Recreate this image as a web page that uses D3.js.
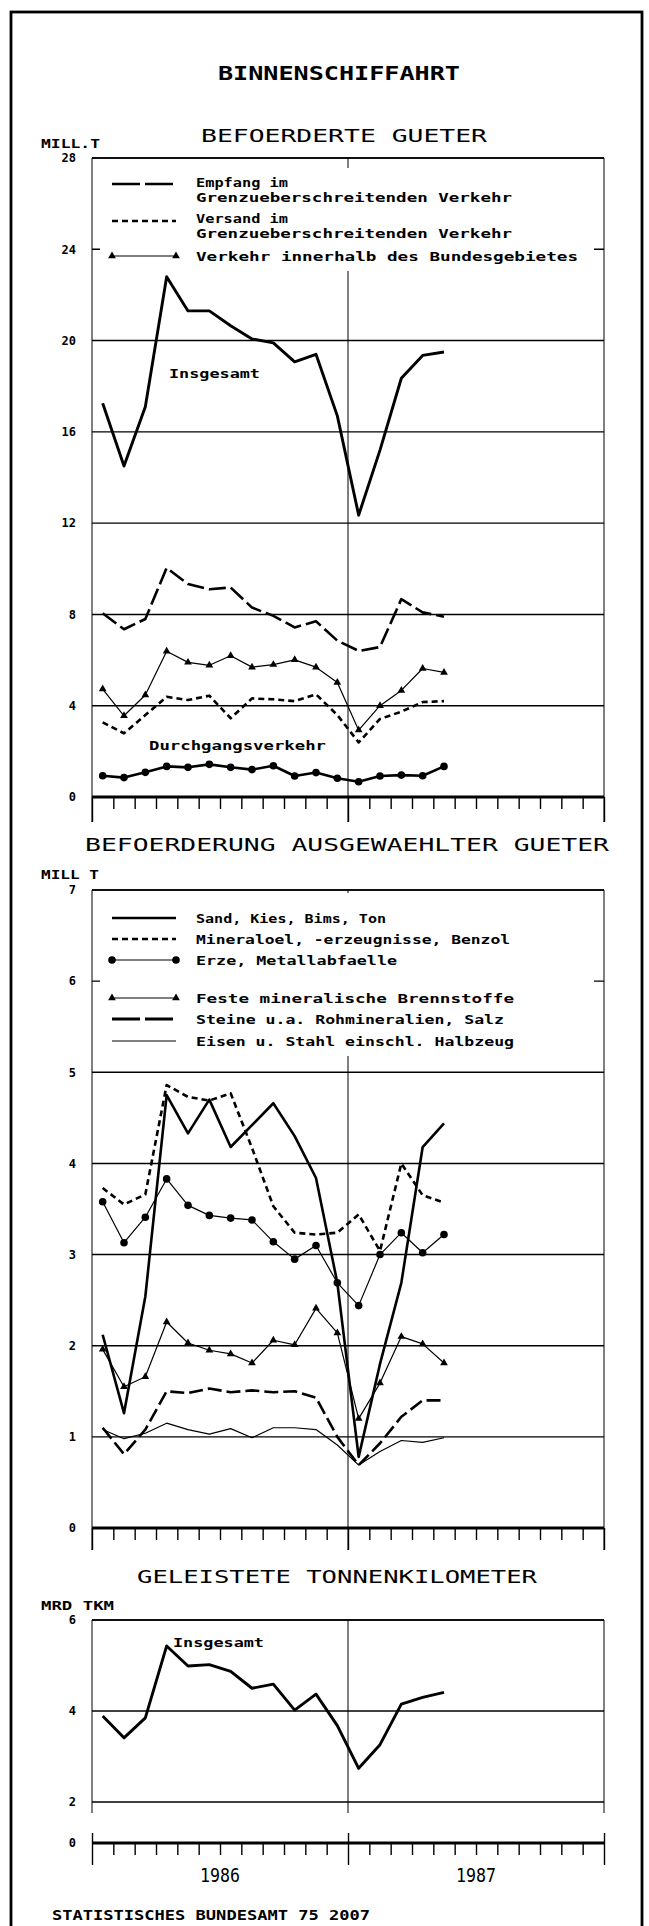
<!DOCTYPE html>
<html>
<head>
<meta charset="utf-8">
<script src="https://cdn.jsdelivr.net/npm/d3@7"></script>
<style>
body { margin: 0; background: #fff; }
svg text { font-family: "DejaVu Sans Mono", "Liberation Mono", monospace; fill: #000; }
</style>
</head>
<body>
<script>
// ---- data ----
var months = ["1986-01","1986-02","1986-03","1986-04","1986-05","1986-06",
              "1986-07","1986-08","1986-09","1986-10","1986-11","1986-12",
              "1987-01","1987-02","1987-03","1987-04","1987-05","1987-06",
              "1987-07","1987-08","1987-09","1987-10","1987-11","1987-12"];
var years = ["1986", "1987"];

// Befoerderte Gueter, Mill. t
var insgesamt = [17.25, 14.5, 17.1, 22.8, 21.3, 21.3, 20.65, 20.07, 19.9, 19.07, 19.4, 16.7, 12.35, 15.2, 18.35, 19.35, 19.5];
var empfang   = [8.05, 7.35, 7.8, 10.04, 9.33, 9.1, 9.18, 8.3, 7.94, 7.43, 7.7, 6.85, 6.4, 6.57, 8.67, 8.09, 7.9];
var versand   = [3.27, 2.79, 3.59, 4.39, 4.25, 4.44, 3.45, 4.32, 4.28, 4.2, 4.5, 3.59, 2.39, 3.42, 3.74, 4.16, 4.2];
var innerhalb = [4.73, 3.56, 4.47, 6.39, 5.9, 5.77, 6.19, 5.69, 5.8, 6.01, 5.69, 5.02, 2.93, 4.0, 4.67, 5.63, 5.46];
var durchgang = [0.93, 0.85, 1.08, 1.34, 1.3, 1.43, 1.3, 1.2, 1.37, 0.92, 1.07, 0.82, 0.67, 0.92, 0.96, 0.93, 1.34];

// Befoerderung ausgewaehlter Gueter, Mill. t
var sand      = [2.12, 1.26, 2.54, 4.75, 4.33, 4.7, 4.18, 4.42, 4.66, 4.3, 3.84, 2.69, 0.78, 1.8, 2.69, 4.18, 4.44];
var mineral   = [3.73, 3.55, 3.66, 4.86, 4.73, 4.69, 4.77, 4.17, 3.53, 3.24, 3.22, 3.24, 3.44, 3.04, 4.0, 3.65, 3.57];
var erze      = [3.58, 3.13, 3.41, 3.83, 3.54, 3.43, 3.4, 3.38, 3.14, 2.95, 3.1, 2.69, 2.44, 3.0, 3.24, 3.02, 3.22];
var feste     = [1.96, 1.55, 1.66, 2.26, 2.03, 1.95, 1.91, 1.81, 2.06, 2.01, 2.41, 2.14, 1.2, 1.59, 2.1, 2.02, 1.81];
var steine    = [1.1, 0.81, 1.08, 1.5, 1.48, 1.53, 1.49, 1.51, 1.49, 1.5, 1.43, 1.0, 0.69, 0.93, 1.22, 1.4, 1.4];
var eisen     = [1.08, 0.98, 1.04, 1.15, 1.08, 1.03, 1.09, 0.99, 1.1, 1.1, 1.08, 0.91, 0.69, 0.84, 0.96, 0.94, 0.99];

// Geleistete Tonnenkilometer, Mrd tkm
var tkm       = [3.89, 3.41, 3.85, 5.43, 4.99, 5.02, 4.87, 4.5, 4.59, 4.02, 4.37, 3.68, 2.74, 3.26, 4.15, 4.3, 4.41];

var ticks1 = [0, 4, 8, 12, 16, 20, 24, 28];
var ticks2 = [0, 1, 2, 3, 4, 5, 6, 7];
var ticks3 = [2, 4, 6];

var legend1 = [["Empfang im", "Grenzueberschreitenden Verkehr"],
               ["Versand im", "Grenzueberschreitenden Verkehr"],
               ["Verkehr innerhalb des Bundesgebietes"]];
var legend2 = ["Sand, Kies, Bims, Ton", "Mineraloel, -erzeugnisse, Benzol",
               "Erze, Metallabfaelle", "Feste mineralische Brennstoffe",
               "Steine u.a. Rohmineralien, Salz", "Eisen u. Stahl einschl. Halbzeug"];

// ---- layout ----
var L = 92, R = 604;
var THICK = 2.6, THIN = 1.2;

var svg = d3.select("body").append("svg")
    .attr("width", 649)
    .attr("height", 1926);

var x = d3.scaleBand().domain(months).range([L, R]);
var xTick = d3.scaleLinear().domain([0, 24]).range([L, R]);
function px(d, i) { return x(months[i]) + x.bandwidth() / 2; }

var y1 = d3.scaleLinear().domain([0, 28]).range([797, 158]);
var y2 = d3.scaleLinear().domain([0, 7]).range([1528, 890]);
var y3 = d3.scaleLinear().domain([2, 6]).range([1802, 1620]);

function label(t, xx, yy, size, weight, len, anchor) {
    var el = svg.append("text")
        .text(t)
        .attr("x", xx)
        .attr("y", yy)
        .attr("font-size", size)
        .attr("font-weight", weight || "normal")
        .attr("text-anchor", anchor || "start");
    if (len) el.attr("textLength", len).attr("lengthAdjust", "spacingAndGlyphs");
    return el;
}

function hline(yy, x1, x2, w) {
    svg.append("line").attr("x1", x1).attr("x2", x2)
        .attr("y1", yy).attr("y2", yy)
        .attr("stroke", "#000").attr("stroke-width", w);
}
function vline(xx, ya, yb, w) {
    svg.append("line").attr("x1", xx).attr("x2", xx)
        .attr("y1", ya).attr("y2", yb)
        .attr("stroke", "#000").attr("stroke-width", w);
}

// outer frame
svg.append("rect")
    .attr("x", 11).attr("y", 12)
    .attr("width", 631).attr("height", 1940)
    .attr("fill", "none").attr("stroke", "#000").attr("stroke-width", 2.8);

// panel frame: grid, borders, y labels, optional legend box
function frame(y, ticks, box, ext) {
    var top = y.range()[1], bot = y.range()[0];
    ticks.forEach(function(t) {
        if (y(t) !== bot) hline(y(t), L, R, 1.4);
    });
    vline(L, top, bot + ext, 1);
    vline(R, top, bot + ext, 1);
    vline(xTick(12), top, bot + ext, 1);
    if (box) {
        svg.append("rect")
            .attr("x", L + 8).attr("y", box[0])
            .attr("width", R - L - 18).attr("height", box[1] - box[0])
            .attr("fill", "#fff");
    }
    var ax = svg.append("g")
        .attr("transform", "translate(76,0)")
        .call(d3.axisLeft(y).tickValues(ticks).tickSize(0).tickPadding(0)
              .tickFormat(d3.format("d")));
    ax.select(".domain").remove();
    ax.selectAll("text")
        .attr("font-family", "DejaVu Sans Mono")
        .attr("font-size", 12)
        .attr("font-weight", "bold");
}

// month ticks under a baseline
function monthAxis(y0, minor, majTop, majBot) {
    hline(y0, L, R, 3);
    var g = svg.append("g")
        .attr("transform", "translate(0," + y0 + ")")
        .call(d3.axisBottom(xTick).tickValues(d3.range(0, 25))
              .tickSize(minor).tickFormat(""));
    g.select(".domain").remove();
    g.selectAll(".tick line").attr("stroke-width", 1.4);
    g.selectAll(".tick").filter(function(d) { return d % 12 === 0; })
        .select("line").attr("y1", majTop).attr("y2", majBot);
}

function series(y, vals, width, dash, marker) {
    var line = d3.line().x(px).y(function(d) { return y(d); });
    svg.append("path")
        .attr("d", line(vals))
        .attr("fill", "none")
        .attr("stroke", "#000")
        .attr("stroke-width", width)
        .attr("stroke-dasharray", dash || null)
        .attr("stroke-linejoin", "round");
    drawMarkers(vals.map(function(d, i) { return [px(d, i), y(d)]; }), marker);
}

function drawMarkers(pts, marker) {
    if (marker === "circle") {
        svg.selectAll(null).data(pts).join("circle")
            .attr("cx", function(p) { return p[0]; })
            .attr("cy", function(p) { return p[1]; })
            .attr("r", 3.8).attr("fill", "#000");
    } else if (marker === "triangle") {
        svg.selectAll(null).data(pts).join("path")
            .attr("d", d3.symbol(d3.symbolTriangle, 26))
            .attr("transform", function(p) { return "translate(" + p[0] + "," + p[1] + ")"; })
            .attr("fill", "#000");
    }
}

function legendLine(yy, width, dash, marker) {
    svg.append("line")
        .attr("x1", 112).attr("x2", 176)
        .attr("y1", yy).attr("y2", yy)
        .attr("stroke", "#000").attr("stroke-width", width)
        .attr("stroke-dasharray", dash || null);
    drawMarkers([[112, yy], [176, yy]], marker);
}

// ---- titles ----
label("BINNENSCHIFFAHRT", 218, 80, 19, "bold", 242);
label("BEFOERDERTE GUETER", 201, 142, 18, "normal", 286);
label("MILL.T", 41, 148, 12.5, "bold", 59);

// ---- panel 1 ----
frame(y1, ticks1, [168, 271], 25);
hline(y1(28), L, R, 1.4);
monthAxis(y1(0), 12, 0, 25);

series(y1, insgesamt, THICK + 0.3);
series(y1, empfang, THICK, "17,5");
series(y1, versand, THICK, "6,4");
series(y1, innerhalb, THIN, null, "triangle");
series(y1, durchgang, THICK, null, "circle");

legendLine(184, THICK, "28,5");
legendLine(221, THICK, "6,4");
legendLine(256, THIN, null, "triangle");
var l1y = [[187, 202], [223, 238], [261]];
var l1w = [[92, 316], [92, 316], [382]];
legend1.forEach(function(rows, k) {
    rows.forEach(function(t, j) { label(t, 196, l1y[k][j], 13, "bold", l1w[k][j]); });
});

label("Insgesamt", 169, 378, 13, "bold", 91);
label("Durchgangsverkehr", 149, 750, 13, "bold", 177);

// ---- panel 2 ----
label("BEFOERDERUNG AUSGEWAEHLTER GUETER", 85, 851, 18, "normal", 524);
label("MILL T", 41, 879, 12.5, "bold", 58);

frame(y2, ticks2, [893, 1056], 22);
hline(y2(7), L, R, 1.4);
monthAxis(y2(0), 12, 0, 22);

series(y2, eisen, THIN);
series(y2, steine, THICK, "14,5");
series(y2, feste, THIN, null, "triangle");
series(y2, erze, THIN, null, "circle");
series(y2, mineral, THICK, "6,4");
series(y2, sand, THICK);

var l2y = [918, 939, 960, 998, 1019, 1041];
legendLine(l2y[0], THICK);
legendLine(l2y[1], THICK, "6,4");
legendLine(l2y[2], THIN, null, "circle");
legendLine(l2y[3], THIN, null, "triangle");
legendLine(l2y[4], THICK + 0.6, "28,5");
legendLine(l2y[5], THIN);
var l2w = [190, 314, 201, 318, 308, 318];
legend2.forEach(function(t, k) { label(t, 196, l2y[k] + 5, 13, "bold", l2w[k]); });

// ---- panel 3 ----
label("GELEISTETE TONNENKILOMETER", 137, 1583, 18, "normal", 400);
label("MRD TKM", 41, 1610, 12.5, "bold", 73);

frame(y3, ticks3, null, 11);
hline(y3(6), L, R, 1.4);
hline(y3(2), L, R, 1.4);
series(y3, tkm, THICK + 0.3);
label("Insgesamt", 173, 1647, 13, "bold", 91);

// broken axis with zero line
var y0 = 1843;
svg.append("text").text("0").attr("x", 76).attr("y", y0).attr("dy", "0.32em")
    .attr("text-anchor", "end").attr("font-size", 12).attr("font-weight", "bold");
monthAxis(y0, 12, -10, 22);

var yearX = d3.scaleBand().domain(years).range([L, R]);
years.forEach(function(yr) {
    label(yr, yearX(yr) + yearX.bandwidth() / 2, 1882, 20, "normal", 40, "middle");
});

label("STATISTISCHES BUNDESAMT 75 2007", 52, 1920, 14, "bold", 318);
</script>
</body>
</html>
